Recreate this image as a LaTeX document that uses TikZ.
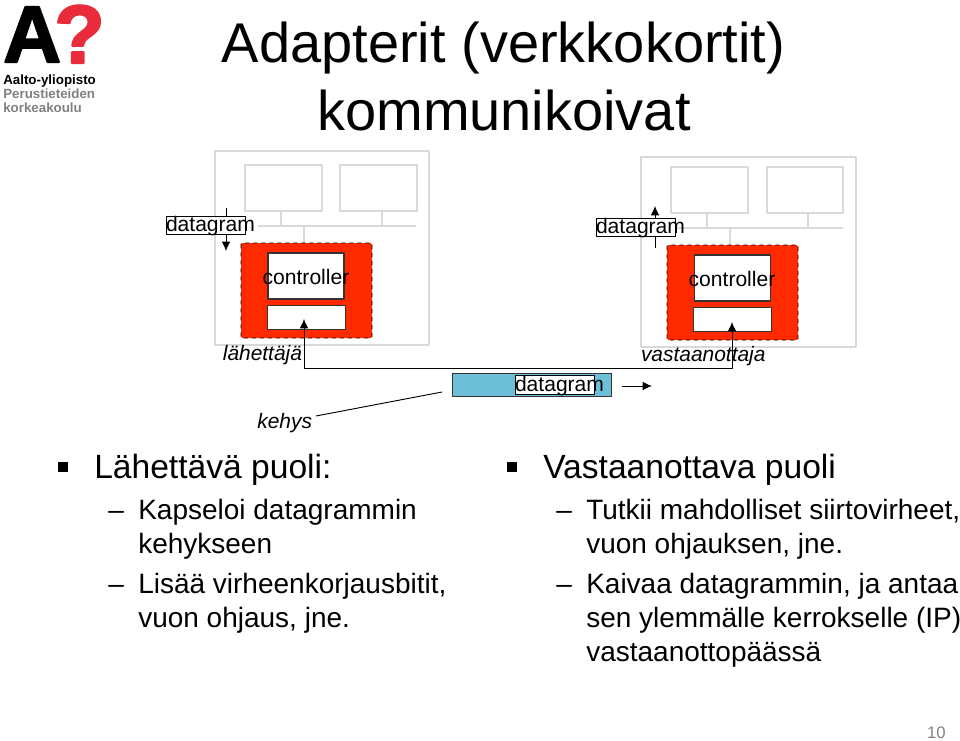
\documentclass[tikz,border=0pt]{standalone}
\usepackage{fontspec}
\setmainfont{Liberation Sans}
\newfontfamily\logoheavy[BoldFeatures={FakeBold=2.5}]{Liberation Sans}
\usetikzlibrary{arrows.meta}
\definecolor{adapterred}{HTML}{FF2A00}
\definecolor{framecyan}{HTML}{6CBFD6}
\definecolor{logored}{HTML}{E92B3C}
\definecolor{hostgray}{HTML}{D9D9D9}
\newcommand{\dgram}{\makebox[59.25pt][l]{datagram}}
\newcommand{\ctrl}{\makebox[57pt][c]{controller}}
\begin{document}
\begin{tikzpicture}[x=0.75pt, y=-0.75pt, line join = round, >={Latex[length=7pt,width=6.5pt]},
    host/.style={draw=hostgray, line width=1.1pt},
    slot/.style={draw=hostgray, line width=0.9pt},
    wire/.style={draw=hostgray, line width=0.8pt},
    adapter/.style={draw=black, dashed, fill=adapterred, rounded corners=1pt, line width=0.6pt},
    part/.style={draw=black!80, fill=white, line width=0.9pt},
    smalltext/.style={font=\fontsize{15.8}{18}\selectfont, inner sep=0pt, outer sep=0pt},
    dglabel/.style={smalltext, draw=black, fill=white, line width=0.6pt, minimum height=14pt, text height=11.5pt, text depth=2.5pt},
    ctrllabel/.style={smalltext, anchor=center},
    tagtext/.style={smalltext, font=\fontsize{15.7}{18}\selectfont\itshape},
    headtext/.style={anchor=base west, inner sep=0pt, font=\fontsize{25.2}{30}\selectfont},
    bodytext/.style={anchor=base west, inner sep=0pt, align=left, font=\fontsize{21}{25.5}\selectfont},
    bulletbox/.style={fill=black, minimum size=7.5pt, inner sep=0pt},
    dashtext/.style={anchor=base west, inner sep=0pt, font=\fontsize{21}{25.5}\selectfont},
    logotext/.style={anchor=base west, inner sep=0pt, font=\fontsize{10}{12}\bfseries\selectfont},
    titletext/.style={anchor=base, inner sep=0pt, font=\fontsize{42}{50}\selectfont},
    flowline/.style={draw=black, line width=0.7pt}]
  \useasboundingbox (0,0) rectangle (960,740);

  \node[anchor=base west, inner sep=0pt, font=\fontsize{60}{60}\logoheavy\bfseries\selectfont] (logoa) at (3,62) {A};
  \node[anchor=base west, inner sep=0pt, text=logored, font=\fontsize{62}{62}\logoheavy\bfseries\selectfont] (logoq) at (54,63) {?};
  \node[logotext] (logo1) at (3,84) {Aalto-yliopisto};
  \node[logotext, text=black!50] (logo2) at (3,98) {Perustieteiden};
  \node[logotext, text=black!50] (logo3) at (3,112) {korkeakoulu};

  \node[titletext] (title1) at (503.5,62) {Adapterit (verkkokortit)};
  \node[titletext] (title2) at (504,130) {kommunikoivat};

  \draw[host] (215,151) rectangle (429,345);
  \draw[slot] (245,165) rectangle (322,211);
  \draw[slot] (340,165) rectangle (417,211);
  \coordinate (busa) at (258,226);
  \coordinate (busb) at (416,226);
  \draw[wire] (busa) -- (busb);
  \draw[wire] (281,211) -- (281,226);
  \draw[wire] (382,211) -- (382,226);
  \draw[wire] (304,226) -- (304,253);
  \draw[adapter] (241,243) rectangle (372,338);
  \node[part, minimum width=57pt, minimum height=34.5pt, inner sep=0pt] (ctrla) at (306,276) {};
  \node[part, minimum width=58pt, minimum height=18.5pt, inner sep=0pt] (linka) at (306.5,317.5) {};
  \node[ctrllabel] (ctrltxta) at (306,277) {\ctrl};

  \draw[host] (641,157) rectangle (856,347);
  \draw[slot] (671,167) rectangle (748,213);
  \draw[slot] (767,167) rectangle (843,213);
  \coordinate (busc) at (675,228);
  \coordinate (busd) at (843,228);
  \draw[wire] (busc) -- (busd);
  \draw[wire] (707,213) -- (707,228);
  \draw[wire] (808,213) -- (808,228);
  \draw[wire] (730,228) -- (730,255);
  \draw[adapter] (667,245) rectangle (798,340);
  \node[part, minimum width=57pt, minimum height=34.5pt, inner sep=0pt] (ctrlb) at (732.5,278) {};
  \node[part, minimum width=58pt, minimum height=18.5pt, inner sep=0pt] (linkb) at (732.5,319.5) {};
  \node[ctrllabel] (ctrltxtb) at (732,279) {\ctrl};

  \coordinate (ina) at (226,208);
  \coordinate (inb) at (226,251);
  \draw[flowline, ->] (ina) -- (inb);
  \node[dglabel] (dga) at (205.5,225.5) {\dgram};
  \coordinate (upa) at (655,248);
  \coordinate (upb) at (655,206);
  \draw[flowline, ->] (upa) -- (upb);
  \node[dglabel] (dgb) at (635.5,227.5) {\dgram};

  \node[tagtext, anchor=east] (sender) at (302,355) {lähettäjä};
  \node[tagtext, anchor=west] (receiver) at (641,356) {vastaanottaja};
  \coordinate (turna) at (304,368);
  \coordinate (turnb) at (732,368);
  \coordinate (tipa) at (304,319);
  \coordinate (tipb) at (732,322);
  \draw[flowline, <->] (tipa) -- (turna) -- (turnb) -- (tipb);

  \node[draw=black!80, fill=framecyan, line width=0.8pt, minimum width=119pt, minimum height=17.5pt, inner sep=0pt] (frame) at (532,385) {};
  \node[dglabel] (dgc) at (554.5,385) {\dgram};
  \coordinate (flowa) at (622,386);
  \coordinate (flowb) at (652,386);
  \draw[flowline, ->] (flowa) -- (flowb);

  \node[tagtext, anchor=east] (kehys) at (312,423) {kehys};
  \coordinate (kehysend) at (316,416);
  \coordinate (framept) at (442,392);
  \draw[flowline] (kehysend) -- (framept);

  \node[bulletbox] (marka) at (63,467) {};
  \node[headtext] (heada) at (94,478) {Lähettävä puoli:};
  \node[dashtext] (dasha) at (108,519) {–};
  \node[bodytext] (bodya) at (138,553) {Kapseloi datagrammin\\kehykseen};
  \node[dashtext] (dashb) at (108,593) {–};
  \node[bodytext] (bodyb) at (138,627) {Lisää virheenkorjausbitit,\\vuon ohjaus, jne.};

  \node[bulletbox] (markb) at (512,467) {};
  \node[headtext] (headb) at (543,478) {Vastaanottava puoli};
  \node[dashtext] (dashc) at (556,519) {–};
  \node[bodytext] (bodyc) at (586,553) {Tutkii mahdolliset siirtovirheet,\\vuon ohjauksen, jne.};
  \node[dashtext] (dashd) at (556,593) {–};
  \node[bodytext] (bodyd) at (586,661) {Kaivaa datagrammin, ja antaa\\sen ylemmälle kerrokselle (IP)\\vastaanottopäässä};

  \node[anchor=base east, inner sep=0pt, text=black!50, font=\fontsize{12.5}{15}\selectfont] (pageno) at (946,738) {10};
\end{tikzpicture}
\end{document}
